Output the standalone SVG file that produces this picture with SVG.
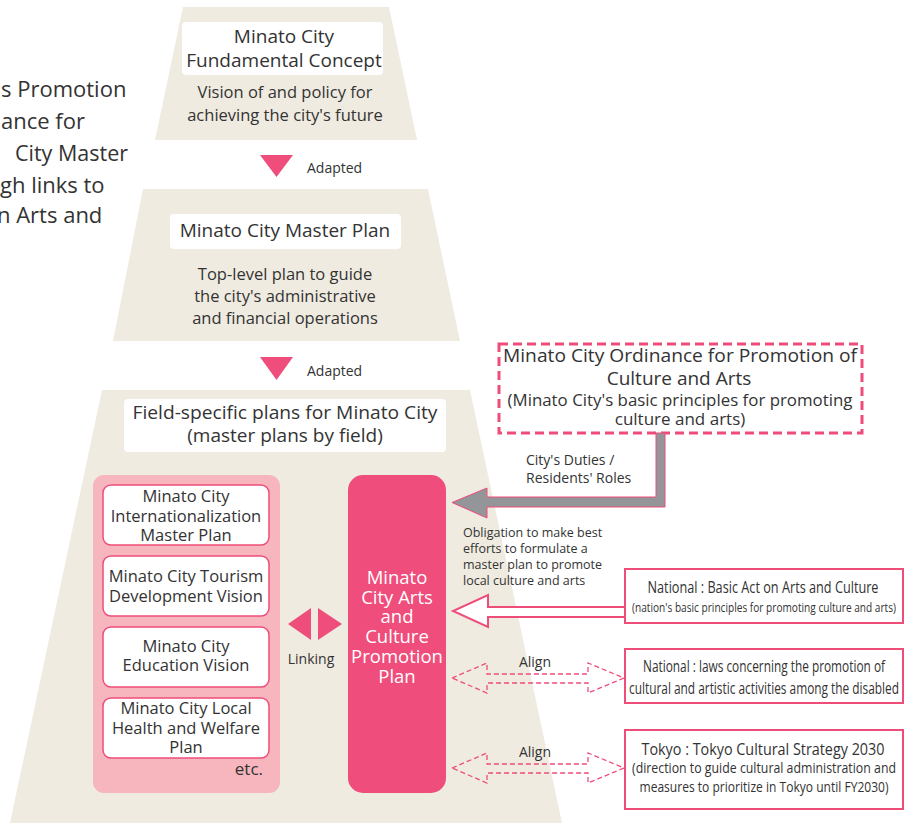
<svg xmlns="http://www.w3.org/2000/svg" width="913" height="823" viewBox="0 0 913 823">
<defs>
<style>
text{font-family:"Open Sans","Noto Sans","DejaVu Sans",sans-serif;fill:#333333}
.trap{fill:#efebe1}
.wb{fill:#ffffff}
.h{font-size:19px;text-anchor:middle}
.s{font-size:16.5px;text-anchor:middle}
.ad{font-size:14px}
.lb{fill:#ffffff;stroke:#ee4d7a;stroke-width:1.5}
.lt{font-size:16.5px;text-anchor:middle}
.mt{font-size:18.5px;text-anchor:middle;fill:#ffffff}
.pk{fill:#ef4d7b}
.nb{fill:#ffffff;stroke:#ee4d7a;stroke-width:2}
.nt{text-anchor:middle}
.da{fill:none;stroke:#ee4d7a;stroke-width:1.3;stroke-dasharray:5 3}
</style>
</defs>
<rect width="913" height="823" fill="#ffffff"/>

<g id="intro-text">
<text x="1" y="97" style="font-size:22px">s Promotion</text>
<text x="1" y="129" style="font-size:22px">ance for</text>
<text x="15" y="161" style="font-size:22px" textLength="113" lengthAdjust="spacingAndGlyphs">City Master</text>
<text x="0" y="193" style="font-size:22px">gh links to</text>
<text x="-3" y="223" style="font-size:22px">n Arts and</text>
</g>

<g id="fundamental-concept">
<polygon class="trap" points="183,7 389,7 417,140 155,140"/>
<rect class="wb" x="182" y="22" width="201" height="53" rx="4"/>
<text class="h" x="284" y="43">Minato City</text>
<text class="h" x="284" y="67">Fundamental Concept</text>
<text class="s" x="285" y="98">Vision of and policy for</text>
<text class="s" x="285" y="121">achieving the city's future</text>
</g>

<g id="master-plan">
<polygon class="trap" points="143,189 428,189 460,341 113,341"/>
<rect class="wb" x="170" y="214" width="231" height="35" rx="4"/>
<text class="h" x="285" y="237">Minato City Master Plan</text>
<text class="s" x="285" y="280">Top-level plan to guide</text>
<text class="s" x="285" y="302">the city's administrative</text>
<text class="s" x="285" y="324">and financial operations</text>
</g>

<g id="field-specific">
<polygon class="trap" points="102,390 470,390 562,823 10,823"/>
<rect class="wb" x="124" y="399" width="322" height="53" rx="4"/>
<text class="h" x="285" y="419" textLength="305" lengthAdjust="spacingAndGlyphs">Field-specific plans for Minato City</text>
<text class="h" x="285" y="442">(master plans by field)</text>
</g>

<g id="related-plans">
<rect x="93" y="475" width="187" height="318" rx="11" fill="#f7b5bd"/>
<rect class="lb" x="103" y="485" width="166" height="60" rx="8"/>
<text class="lt" x="186" y="502">Minato City</text>
<text class="lt" x="186" y="522">Internationalization</text>
<text class="lt" x="186" y="541">Master Plan</text>
<rect class="lb" x="103" y="556" width="166" height="60" rx="8"/>
<text class="lt" x="186" y="582">Minato City Tourism</text>
<text class="lt" x="186" y="602">Development Vision</text>
<rect class="lb" x="103" y="627" width="166" height="60" rx="8"/>
<text class="lt" x="186" y="652">Minato City</text>
<text class="lt" x="186" y="671">Education Vision</text>
<rect class="lb" x="103" y="698" width="166" height="60" rx="8"/>
<text class="lt" x="186" y="714">Minato City Local</text>
<text class="lt" x="186" y="734">Health and Welfare</text>
<text class="lt" x="186" y="753">Plan</text>
<text x="263" y="775" style="font-size:17px;text-anchor:end">etc.</text>
</g>

<g id="arts-culture-plan">
<rect class="pk" x="348" y="475" width="98" height="318" rx="15"/>
<text class="mt" x="397" y="584">Minato</text>
<text class="mt" x="397" y="604">City Arts</text>
<text class="mt" x="397" y="623">and</text>
<text class="mt" x="397" y="643">Culture</text>
<text class="mt" x="397" y="663">Promotion</text>
<text class="mt" x="397" y="683">Plan</text>
</g>

<g id="ordinance">
<rect x="499" y="344" width="363" height="89" fill="#ffffff" stroke="#ee4d7a" stroke-width="3" stroke-dasharray="9 5"/>
<text class="nt" x="680" y="362" style="font-size:19px" textLength="354" lengthAdjust="spacingAndGlyphs">Minato City Ordinance for Promotion of</text>
<text class="nt" x="679" y="385" style="font-size:19px">Culture and Arts</text>
<text class="nt" x="680" y="406" style="font-size:17px" textLength="345" lengthAdjust="spacingAndGlyphs">(Minato City's basic principles for promoting</text>
<text class="nt" x="680" y="425" style="font-size:17px">culture and arts)</text>
</g>

<g id="basic-act">
<rect class="nb" x="625" y="569" width="278" height="54"/>
<text class="nt" x="763" y="593" style="font-size:15.5px" textLength="231" lengthAdjust="spacingAndGlyphs">National : Basic Act on Arts and Culture</text>
<text class="nt" x="764" y="612" style="font-size:12.5px" textLength="264" lengthAdjust="spacingAndGlyphs">(nation's basic principles for promoting culture and arts)</text>
</g>

<g id="disabled-laws">
<rect class="nb" x="625" y="649" width="278" height="54"/>
<text class="nt" x="764" y="672" style="font-size:15.5px" textLength="242" lengthAdjust="spacingAndGlyphs">National : laws concerning the promotion of</text>
<text class="nt" x="764" y="694" style="font-size:15.5px" textLength="270" lengthAdjust="spacingAndGlyphs">cultural and artistic activities among the disabled</text>
</g>

<g id="tokyo-strategy">
<rect class="nb" x="625" y="730" width="278" height="79"/>
<text class="nt" x="763" y="755" style="font-size:16px" textLength="243" lengthAdjust="spacingAndGlyphs">Tokyo : Tokyo Cultural Strategy 2030</text>
<text class="nt" x="764" y="773" style="font-size:14px" textLength="264" lengthAdjust="spacingAndGlyphs">(direction to guide cultural administration and</text>
<text class="nt" x="764" y="792" style="font-size:14px" textLength="249" lengthAdjust="spacingAndGlyphs">measures to prioritize in Tokyo until FY2030)</text>
</g>

<g id="connectors">
<polygon class="pk" points="260,155 293,155 276.5,177"/>
<text class="ad" x="307" y="173">Adapted</text>
<polygon class="pk" points="260,357 293,357 276.5,380"/>
<text class="ad" x="307" y="376">Adapted</text>

<polygon class="pk" points="288,624 311,608 311,640"/>
<polygon class="pk" points="318,608 342,624 318,640"/>
<text class="ad" x="311" y="664" style="text-anchor:middle">Linking</text>

<polygon points="656,433 665,433 665,507 487,507 487,518 452,502.5 487,488 487,497 656,497" fill="#939598" stroke="#ee4d7a" stroke-width="1"/>
<text class="ad" x="526" y="465">City's Duties /</text>
<text class="ad" x="526" y="483">Residents' Roles</text>

<text x="463" y="537" style="font-size:12.5px">Obligation to make best</text>
<text x="463" y="553" style="font-size:12.5px">efforts to formulate a</text>
<text x="463" y="569" style="font-size:12.5px">master plan to promote</text>
<text x="463" y="585" style="font-size:12.5px">local culture and arts</text>

<polygon points="625,607 488,607 488,595 453,611 488,627 488,617 625,617" fill="#ffffff" stroke="#ee4d7a" stroke-width="2"/>

<polygon class="da" points="452,678 487,663 487,674 588,674 588,663 624,678 588,693 588,683 487,683 487,693"/>
<text class="ad" x="535" y="667" style="text-anchor:middle">Align</text>

<polygon class="da" points="452,768 487,753 487,764 588,764 588,753 624,768 588,783 588,773 487,773 487,783"/>
<text class="ad" x="535" y="757" style="text-anchor:middle">Align</text>
</g>
</svg>
